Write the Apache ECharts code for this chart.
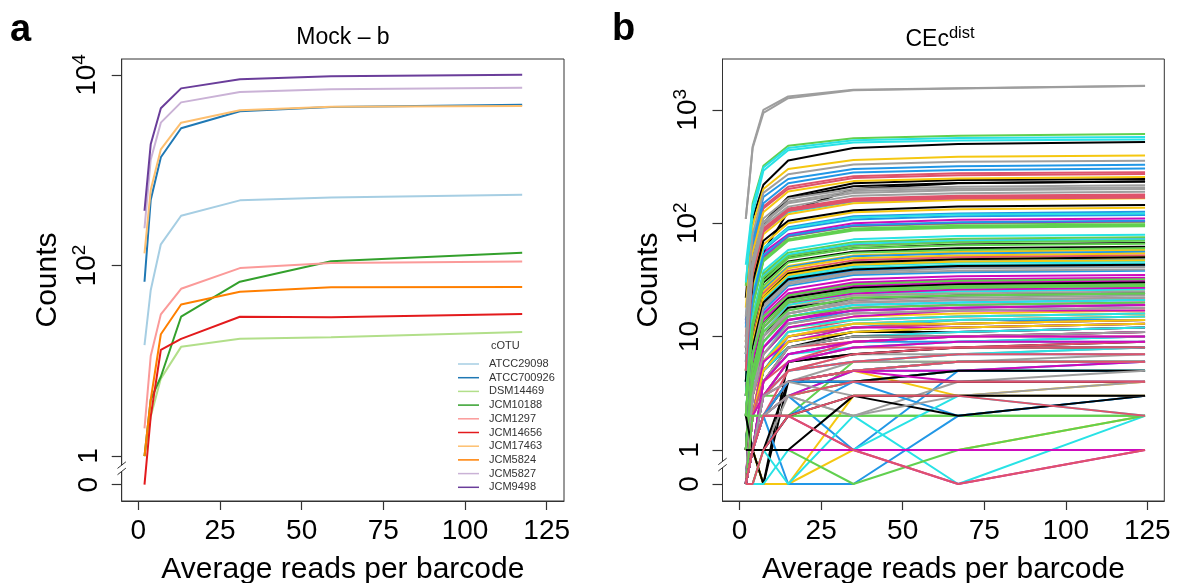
<!DOCTYPE html>
<html><head><meta charset="utf-8">
<script src="https://cdn.jsdelivr.net/npm/echarts@6/dist/echarts.min.js"></script>
<style>html,body{margin:0;padding:0;background:#fff}#c{width:1178px;height:583px}</style>
</head><body><div id="c"></div>
<script>
const FONT = '"Liberation Sans", Arial, Helvetica, sans-serif';

// ---------- shared axis ticks ----------
const xTicks = [0, 25, 50, 75, 100, 125];

// ---------- panel a : Mock - b ----------
const mockX = [1.9, 3.8, 6.9, 13.1, 31.1, 59, 117.5];
const mockNames = ['ATCC29098','ATCC700926','DSM14469','JCM10188','JCM1297','JCM14656','JCM17463','JCM5824','JCM5827','JCM9498'];
const mockColors = ['#A6CEE3','#1F78B4','#B2DF8A','#33A02C','#FB9A99','#E31A1C','#FDBF6F','#FF7F00','#CAB2D6','#6A3D9A'];
const mockValues = [
  [14.6, 55, 167, 333, 483, 519, 552],        // ATCC29098
  [67.6, 488, 1370, 2760, 4160, 4620, 4860],  // ATCC700926
  [1, 2.6, 6.5, 14, 17, 17.7, 20],            // DSM14469
  [1, 3.9, 6.8, 29, 67.6, 111, 136],          // JCM10188
  [1.95, 11.2, 30.7, 57, 94, 106, 110],       // JCM1297
  [0, 2.6, 13, 17, 29, 28.7, 31],             // JCM14656
  [134, 620, 1660, 3160, 4260, 4650, 4730],   // JCM17463
  [1, 3.9, 19, 39, 53, 59, 59.4],             // JCM5824
  [246, 1290, 3160, 5160, 6620, 7080, 7360],  // JCM5827
  [376, 1872, 4470, 7240, 9020, 9710, 10070]  // JCM9498
];
const mockYTicks = [0, 1, 100, 10000];
const mockYLabels = ['0', '1', '10^2', '10^4'];

// ---------- panel b : CEc dist ----------
const cecX = [1.9, 4.0, 7.3, 14.9, 34.9, 67.0, 124.3];
const cecYTicks = [0, 1, 10, 100, 1000];
const cecYLabels = ['0', '1', '10', '10^2', '10^3'];

const cecBlack = [
  [22,110,218,357,460,500,519],[8,50,100,170,225,240,245],[3,20,56,126,200,225,233],
  [7,46,98,165,212,226,233],[4,30,70,105,130,140,145],[2,12,32,50,60,65,67],
  [1,10,30,46,56,60,62],[1,9,22,36,45,48,50],[1,8,20,32,39,42,43],
  [0,5,13,22,27,29,30],[1,4,10,18,21,23,24],[0,2,6,10,12,13,14],
  [1,2,5,9,11,12,13],[0,2,5,8,11,11,12],[0,1,4,8,10,10,11],
  [0,1,3,6,7,8,9],[0,1,0,6,7,8,8],[2,1,0,4,5,6,6],
  [0,1,2,4,4,5,5],[0,1,1,4,4,4,4],[0,1,1,2,3,2,3],[1,1,1,1,3,3,3]
];
const cecRed = [
  [10,60,140,210,260,275,282],[13,62,135,200,250,265,271],[6,38,90,135,165,175,179],
  [8,39,87,132,162,171,176],[9,40,88,130,160,168,172],[5,36,84,128,157,165,168],
  [2,10,24,38,47,50,52],[1,4,9,16,20,21,22],[0,3,8,14,17,18,19],
  [1,3,8,13,16,17,18],[0,2,6,11,14,15,16],[1,3,6,10,13,14,15],
  [0,2,6,10,12,13,14],[0,1,4,8,10,11,12],[0,2,4,8,9,10,11],
  [0,2,4,6,9,10,10],[0,1,3,6,8,8,9],[0,1,3,5,7,8,8],
  [0,1,2,5,6,7,7],[0,1,2,4,5,6,6],[0,1,2,3,4,4,4],[0,1,2,2,3,3,2],[0,0,1,2,1,0,1]
];
const cecGreen = [
  [28,150,321,482,560,590,612],[4,20,50,76,94,99,102],[4,19,47,72,90,95,98],
  [3,18,48,72,88,93,96],[5,19,46,70,86,91,94],[2,14,36,55,68,73,75],
  [2,13,33,51,63,68,70],[3,13,31,49,60,64,66],[2,12,28,45,55,58,60],
  [1,7,15,23,29,31,32],[1,5,13,21,26,28,29],[1,5,12,20,25,27,28],
  [1,4,11,17,22,23,24],[1,4,9,15,18,19,20],[0,1,2,2,6,6,6],
  [0,1,3,3,4,5,5],[0,1,2,3,4,5,5],[2,2,2,2,2,2,2],[0,2,2,2,2,2,2],[0,0,1,1,0,1,2]
];
const cecBlue = [
  [14,70,170,245,300,318,328],[12,65,150,225,280,295,303],[4,25,60,92,115,122,126],
  [6,24,58,88,108,115,118],[5,22,52,78,96,102,105],[2,11,26,41,51,54,56],
  [2,9,22,35,44,46,48],[1,8,19,31,38,41,42],[1,7,17,28,35,37,38],
  [0,3,9,15,19,20,21],[0,3,8,13,17,18,19],[0,2,5,10,12,14,14],
  [0,2,5,9,11,11,12],[0,2,4,7,9,9,10],[0,2,3,5,6,7,7],
  [0,1,2,4,5,5,6],[0,1,1,2,4,5,5],[0,1,2,3,1,5,5],[0,1,2,0,0,2,3],[0,1,2,4,4,2,3]
];
const cecCyan = [
  [43,140,310,460,540,565,576],[30,120,290,440,515,535,547],[7,35,85,125,155,165,168],
  [4,26,60,90,112,119,122],[3,15,38,58,72,77,79],[2,14,34,53,66,70,72],
  [1,8,20,34,42,45,46],[1,8,21,33,40,43,44],[0,4,12,20,25,26,27],
  [0,4,11,19,24,25,26],[0,3,9,15,19,20,21],[0,3,7,12,14,15,16],
  [0,2,6,11,13,14,15],[0,2,5,8,10,11,12],[0,1,4,7,8,9,10],
  [0,1,3,6,8,9,9],[0,1,3,5,6,7,8],[0,1,2,3,5,6,6],[0,0,1,0,2,0,2],[0,0,0,1,1,3,2]
];
const cecMagenta = [
  [3,22,55,80,100,107,110],[3,21,50,77,95,101,104],[3,15,35,52,65,70,72],
  [1,6,16,26,32,34,35],[0,6,15,24,30,32,33],[1,6,15,24,29,31,32],
  [0,5,14,23,28,30,31],[1,5,14,22,27,29,30],[0,5,13,21,26,28,29],
  [1,5,12,20,24,26,27],[0,3,8,14,18,19,20],[0,3,8,14,17,18,19],
  [1,3,7,12,15,17,17],[0,2,6,9,12,12,13],[0,1,4,7,9,10,11],
  [0,1,4,7,9,10,10],[0,2,3,6,8,9,9],[0,1,3,4,5,5,6],
  [0,1,2,3,5,4,4],[0,1,1,1,1,1,1],[0,1,2,2,1,0,1]
];
const cecYellow = [
  [18,95,200,300,360,385,395],[9,55,125,190,235,248,255],[5,32,80,120,150,160,166],
  [5,28,65,100,125,133,137],[2,11,27,42,52,56,58],[1,10,25,40,49,52,54],
  [1,9,23,37,45,48,50],[2,9,22,35,43,46,47],[1,5,12,19,23,25,26],
  [0,3,7,12,15,16,17],[0,2,7,12,14,15,16],[0,2,6,11,13,14,15],
  [0,2,6,10,13,13,14],[0,2,5,9,11,12,13],[1,1,0,0,3,3,4],[0,2,3,4,5,3,3],[0,1,0,0,1,1,2]
];
const cecGray = [
  [109,475,1000,1310,1500,1550,1630],[109,460,940,1265,1490,1545,1625],[15,80,185,270,330,348,356],
  [10,48,110,165,200,210,216],[9,44,102,155,192,201,206],[8,45,100,150,185,195,200],
  [7,40,95,140,175,184,189],[2,8,19,30,37,40,41],[1,7,18,29,36,38,39],
  [0,4,11,18,23,24,25],[0,4,10,17,22,23,24],[0,4,10,16,21,22,23],
  [0,3,10,16,20,21,22],[0,3,7,13,16,17,18],[0,2,4,8,10,10,11],
  [0,1,3,5,7,7,8],[0,1,2,4,6,6,7],[0,1,2,4,5,6,6],
  [0,0,1,3,2,4,5],[0,1,3,4,3,3,4],[0,1,2,3,2,3,3]
];
const cecGroups = [
  [cecBlack, '#000000'], [cecRed, '#DF536B'], [cecGreen, '#61D04F'], [cecBlue, '#2297E6'],
  [cecCyan, '#28E2E5'], [cecMagenta, '#CD0BBC'], [cecYellow, '#F5C710'], [cecGray, '#9E9E9E']
];

// ---------- helpers ----------
const ZERO = -0.3;
const tr = v => (v > 0 ? Math.log10(v) : ZERO);
const supLabel = s => { const m = s.split('^'); return m.length > 1 ? '{b|' + m[0] + '}{s|' + m[1] + '}' : '{b|' + s + '}'; };

function xAxisFor(grid, min, max) {
  return {
    type: 'value', gridIndex: grid, min: min, max: max, position: 'bottom',
    axisLine: { show: true, onZero: false, lineStyle: { color: '#333', width: 1 } }, splitLine: { show: false },
    axisTick: { show: true, inside: false, customValues: xTicks, length: 9, lineStyle: { color: '#333', width: 1.2 } },
    axisLabel: { customValues: xTicks, fontSize: 28, fontFamily: FONT, color: '#000', margin: 16 },
    name: 'Average reads per barcode', nameLocation: 'middle', nameGap: 54,
    nameTextStyle: { fontSize: 30, fontFamily: FONT, color: '#000' }
  };
}
function yAxisFor(grid, min, max, ticks, labels) {
  const vals = ticks.map(tr);
  return {
    type: 'value', gridIndex: grid, min: min, max: max, position: 'left',
    axisLine: { show: true, onZero: false, lineStyle: { color: '#333', width: 1 } }, splitLine: { show: false },
    axisTick: { show: true, inside: false, customValues: vals, length: 10, lineStyle: { color: '#333', width: 1.2 } },
    axisLabel: {
      customValues: vals, rotate: 90, margin: 18, color: '#000', fontFamily: FONT, fontSize: 28,
      formatter: v => { const i = vals.findIndex(u => Math.abs(u - v) < 1e-6); return i >= 0 ? supLabel(labels[i]) : ''; },
      rich: {
        b: { fontSize: 28, fontFamily: FONT, color: '#000' },
        s: { fontSize: 19, fontFamily: FONT, color: '#000', padding: [0, 0, 14, 0] }
      }
    },
    name: 'Counts', nameLocation: 'middle', nameRotate: 90, nameGap: 59,
    nameTextStyle: { fontSize: 30, fontFamily: FONT, color: '#000' }
  };
}

const series = [];
mockValues.forEach((vals, i) => {
  series.push({
    name: mockNames[i], type: 'line', xAxisIndex: 0, yAxisIndex: 0, showSymbol: false, symbol: 'none',
    color: mockColors[i], lineStyle: { width: 2, color: mockColors[i] }, silent: true,
    data: vals.map((v, j) => [mockX[j], tr(v)])
  });
});
const maxLen = Math.max(...cecGroups.map(g => g[0].length));
for (let i = 0; i < maxLen; i++) {
  cecGroups.forEach(([arr, col]) => {
    if (i < arr.length) {
      series.push({
        type: 'line', xAxisIndex: 1, yAxisIndex: 1, showSymbol: false, symbol: 'none', silent: true,
        color: col, lineStyle: { width: 2, color: col },
        data: arr[i].map((v, j) => [cecX[j], tr(v)])
      });
    }
  });
}

const chart = echarts.init(document.getElementById('c'));
chart.setOption({
  animation: false,
  backgroundColor: '#fff',
  title: [
    { text: 'a', left: 10, top: 12, padding: 0, textStyle: { fontSize: 38, fontWeight: 'bold', fontFamily: FONT, color: '#000' } },
    { text: 'Mock – b', left: 343, top: 26, padding: 0, textAlign: 'center', textStyle: { fontSize: 23, fontWeight: 'normal', fontFamily: FONT, color: '#000' } },
    { text: 'b', left: 612, top: 11, padding: 0, textStyle: { fontSize: 38, fontWeight: 'bold', fontFamily: FONT, color: '#000' } },
    { text: '{m|CEc}{s|dist}', left: 940, top: 25, padding: 0, textAlign: 'center',
      textStyle: { fontFamily: FONT, fontWeight: 'normal', color: '#000', rich: {
        m: { fontSize: 23, fontWeight: 'normal', fontFamily: FONT, color: '#000' },
        s: { fontSize: 16.5, fontWeight: 'normal', fontFamily: FONT, color: '#000', padding: [0, 0, 12, 0] } } } },
    { text: 'cOTU', left: 491, top: 340, padding: 0, textStyle: { fontSize: 11, fontWeight: 'normal', fontFamily: FONT, color: '#333' } }
  ],
  legend: {
    data: mockNames, orient: 'vertical', left: 458, top: 358, padding: 0,
    icon: 'rect', itemWidth: 21, itemHeight: 1.5, itemGap: 1.7, selectedMode: false,
    textStyle: { fontSize: 11, fontFamily: FONT, color: '#333', lineHeight: 12, padding: [0, 0, 0, 5] }
  },
  grid: [
    { left: 121.7, top: 59, width: 442.3, height: 442, outerBoundsMode: 'none', containLabel: false, show: true, borderColor: '#333', borderWidth: 1, backgroundColor: 'transparent' },
    { left: 722.5, top: 59, width: 441.8, height: 442, outerBoundsMode: 'none', containLabel: false, show: true, borderColor: '#333', borderWidth: 1, backgroundColor: 'transparent' }
  ],
  xAxis: [xAxisFor(0, -5.08, 130.3), xAxisFor(1, -5.24, 130.2)],
  yAxis: [yAxisFor(0, -0.472, 4.168, mockYTicks, mockYLabels), yAxisFor(1, -0.45, 3.448, cecYTicks, cecYLabels)],
  series: series
});

function breakMarks(gridIndex, xmin) {
  const p = chart.convertToPixel({ gridIndex: gridIndex }, [xmin, -0.13]);
  const cx = p[0], cy = p[1];
  return [
    { type: 'rect', z: 100, shape: { x: cx - 2, y: cy - 3, width: 4, height: 6 }, style: { fill: '#fff' } },
    { type: 'line', z: 101, shape: { x1: cx - 4.2, y1: cy, x2: cx + 4.2, y2: cy - 6.6 }, style: { stroke: '#333', lineWidth: 1 } },
    { type: 'line', z: 101, shape: { x1: cx - 4.2, y1: cy + 6.3, x2: cx + 4.2, y2: cy - 0.3 }, style: { stroke: '#333', lineWidth: 1 } }
  ];
}
chart.setOption({ graphic: breakMarks(0, -5.08).concat(breakMarks(1, -5.24)) });
</script></body></html>
